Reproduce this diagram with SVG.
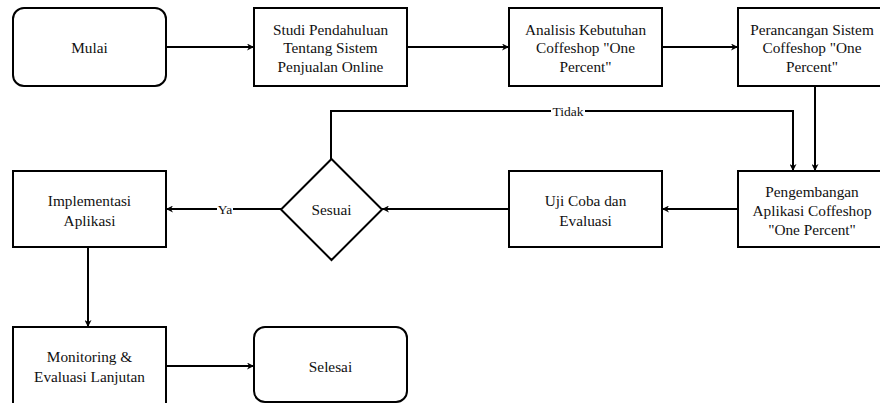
<svg xmlns="http://www.w3.org/2000/svg" width="880" height="403" viewBox="0 0 880 403">
<style>
.n{fill:#fff;stroke:#000;stroke-width:2}
.t{font-family:'Liberation Serif',serif;font-size:15.3px;fill:#111;text-anchor:middle;dominant-baseline:central}
.c{fill:none;stroke:#000;stroke-width:2}
.l{font-family:'Liberation Serif',serif;font-size:13.5px;fill:#111;text-anchor:middle;dominant-baseline:central}
</style>
<defs>
<marker id="a" viewBox="0 0 10 10" refX="10" refY="5" markerWidth="7" markerHeight="7" markerUnits="userSpaceOnUse" orient="auto"><path d="M0,0 L10,5 L0,10 L3,5 Z" fill="#000"/></marker>
</defs>
<rect width="880" height="403" fill="#fff"/>
<g id="connectors">
<path class="c" d="M166,47 H254" marker-end="url(#a)"/>
<path class="c" d="M407,47 H509" marker-end="url(#a)"/>
<path class="c" d="M662,47 H738" marker-end="url(#a)"/>
<path class="c" d="M815,86 V171" marker-end="url(#a)"/>
<path class="c" d="M331,159 V111 H793 V171" marker-end="url(#a)"/>
<path class="c" d="M738,209 H662" marker-end="url(#a)"/>
<path class="c" d="M509,209 H382" marker-end="url(#a)"/>
<path class="c" d="M281,209 H166" marker-end="url(#a)"/>
<path class="c" d="M88,247 V327" marker-end="url(#a)"/>
<path class="c" d="M166,366 H254" marker-end="url(#a)"/>
<rect x="551" y="104" width="34" height="14" fill="#fff"/>
<text class="l" x="568" y="111">Tidak</text>
<rect x="217" y="202" width="16" height="14" fill="#fff"/>
<text class="l" x="225" y="209">Ya</text>
</g>
<g id="mulai"><rect class="n" x="13" y="8" width="153" height="78" rx="11"/><text class="t" x="89.5" y="47">Mulai</text></g>
<g id="studi"><rect class="n" x="254" y="8" width="153" height="78"/><text class="t"><tspan x="330.5" y="29">Studi Pendahuluan</tspan><tspan x="330.5" y="47">Tentang Sistem</tspan><tspan x="330.5" y="66">Penjualan Online</tspan></text></g>
<g id="analisis"><rect class="n" x="509" y="8" width="153" height="78"/><text class="t"><tspan x="585.5" y="29">Analisis Kebutuhan</tspan><tspan x="585.5" y="47">Coffeshop "One</tspan><tspan x="585.5" y="66">Percent"</tspan></text></g>
<g id="perancangan"><rect class="n" x="738" y="8" width="153" height="78"/><text class="t"><tspan x="812" y="29">Perancangan Sistem</tspan><tspan x="812" y="47">Coffeshop "One</tspan><tspan x="812" y="66">Percent"</tspan></text></g>
<g id="pengembangan"><rect class="n" x="738" y="171" width="153" height="76"/><text class="t"><tspan x="812" y="191">Pengembangan</tspan><tspan x="812" y="210">Aplikasi Coffeshop</tspan><tspan x="812" y="229">"One Percent"</tspan></text></g>
<g id="ujicoba"><rect class="n" x="509" y="171" width="153" height="76"/><text class="t"><tspan x="585.5" y="200">Uji Coba dan</tspan><tspan x="585.5" y="220">Evaluasi</tspan></text></g>
<g id="sesuai"><path class="n" d="M331.5,159 L382,209.5 L331.5,260 L281,209.5 Z"/><text class="t" x="331.5" y="209">Sesuai</text></g>
<g id="implementasi"><rect class="n" x="13" y="171" width="153" height="76"/><text class="t"><tspan x="89.5" y="200">Implementasi</tspan><tspan x="89.5" y="220">Aplikasi</tspan></text></g>
<g id="monitoring"><rect class="n" x="13" y="327" width="153" height="78"/><text class="t"><tspan x="89.5" y="356">Monitoring &amp;</tspan><tspan x="89.5" y="376">Evaluasi Lanjutan</tspan></text></g>
<g id="selesai"><rect class="n" x="254" y="327" width="153" height="75" rx="11"/><text class="t" x="330.5" y="366">Selesai</text></g>
</svg>
